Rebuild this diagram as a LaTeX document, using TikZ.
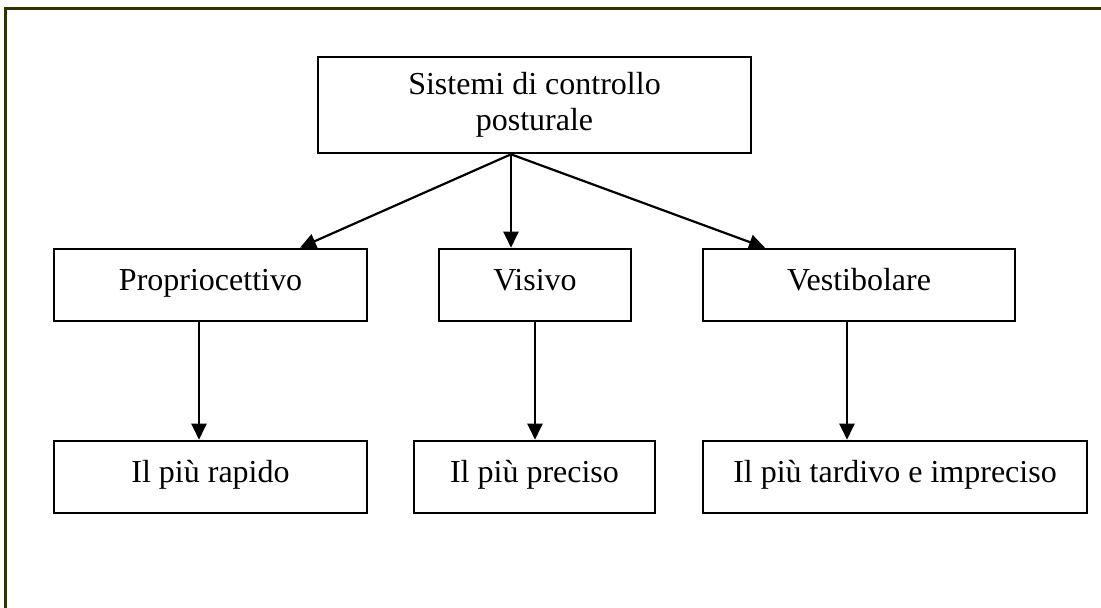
\documentclass[tikz,border=0pt]{standalone}
\usepackage{fontspec}
\setmainfont{Liberation Serif}
\usetikzlibrary{arrows.meta,positioning}
\definecolor{framecol}{RGB}{51,51,0}
\tikzset{box/.style={rectangle,draw,line width=2.6pt,minimum height=72pt,inner sep=0pt,align=center}}
\tikzset{line box/.style={box,text height=20pt,text depth=10pt}}
\tikzstyle{arrow} = [line width=2.2pt,-{Triangle[length=16pt,width=15pt]}]

\begin{document}
\begin{tikzpicture}[x=1pt,y=-1pt]
  \fontsize{32}{36}\selectfont
  \useasboundingbox (0,0) rectangle (1101,608);
  \clip (0,0) rectangle (1101,608);
  \draw[framecol,line width=3pt] (5,8) rectangle (1120,630);

    \node[box,minimum width=433pt,minimum height=96pt] (sys) at (534.5,105) {Sistemi di controllo\\posturale};

    \node[line box,minimum width=313pt] (prop) at (210.5,285) {Propriocettivo};
    \node[line box,minimum width=192pt] (vis) at (535,285) {Visivo};
    \node[line box,minimum width=312pt] (vest) at (859,285) {Vestibolare};

    \node[line box,minimum width=313pt] (rap) at (210.5,477) {Il più rapido};
    \node[line box,minimum width=241pt] (prec) at (534.5,477) {Il più preciso};
    \node[line box,minimum width=384pt] (tard) at (895,477) {Il più tardivo e impreciso};

    \coordinate (src) at ([xshift=-23.5pt]sys.south);
    \coordinate (vdown) at ([xshift=-12pt]vest.south);

   	\draw [arrow] (src) -- ([xshift=89.5pt]prop.north);
   	\draw [arrow] (src) -- (src |- vis.north);
   	\draw [arrow] (src) -- ([xshift=-94pt]vest.north);
   	\draw [arrow] ([xshift=-11.5pt]prop.south) -- ([xshift=-11.5pt]rap.north);
   	\draw [arrow] (vis.south) -- (vis.south |- prec.north);
	\draw [arrow] (vdown) -- (vdown |- tard.north);
\end{tikzpicture}
\end{document}
